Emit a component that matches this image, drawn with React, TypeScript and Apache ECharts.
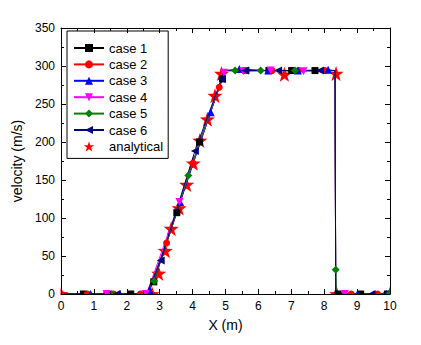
import React, { useEffect, useRef } from "react";
import * as echarts from "echarts";

// x (m), velocity (m/s) — marker points of each case
const case1Marks: number[][] = [[0.68,0],[1.4,0],[2.12,0],[2.82,16],[3.52,107],[4.21,200],[4.91,283],[5.62,294],[6.32,294],[7.01,294],[7.72,294],[8.42,0],[9.11,0],[9.92,0]];
const case2Marks: number[][] = [[0,0],[0.8,0],[1.6,0],[2.41,0],[3.21,67],[4.01,172],[4.81,272],[5.61,294],[6.42,294],[7.22,294],[8.02,294],[8.82,0],[9.62,0]];
const case3Marks: number[][] = [[0.9,0],[1.79,0],[2.7,5],[3.62,121],[4.55,239],[5.42,296],[6.3,294],[7.2,294],[8.12,295],[9.01,0],[9.9,0]];
const case4Marks: number[][] = [[1.39,0],[2.57,0],[3.6,121],[4.95,291],[5.54,293],[6.37,294],[7.37,293],[8.63,0]];
const case5Marks: number[][] = [[1.54,0],[2.83,17],[3.87,156],[5.29,294],[6.07,294],[7.11,294],[8.35,32],[9.98,0]];
const case6Marks: number[][] = [[1.69,0],[3.03,44],[4.07,188],[4.88,283],[5.59,294],[6.6,294],[7.87,294],[9.44,0]];

// profile vertices (no marker) of each case
const commonCorners: number[][] = [[0,0],[2.6,0],[4.97,294],[8.33,294],[8.35,0],[10,0]];
const case5Corners: number[][] = [[0,0],[2.6,0],[4.97,294],[8.33,294],[8.37,0],[10,0]];

const analytical: number[][] = [[0,0],[2.77,0],[2.97,27],[3.17,57],[3.35,86],[3.59,113],[3.82,144],[4.02,172],[4.22,202],[4.45,230],[4.68,261],[4.88,290],[6.79,289],[8.36,290],[8.38,0],[10,0]];

const names = ["case 1","case 2","case 3","case 4","case 5","case 6"];
const colors = ["#000000","#ff0000","#0000ff","#ff00ff","#008000","#000080"];
const symbols = ["rect","circle","triangle","triangle","diamond","triangle"];
const rotates = [0,0,0,180,0,90];
const sizes = [7,7,8,8,8,8];

const STAR = "path://M0,-10L2.35,-3.24L9.51,-3.09L3.8,1.24L5.88,8.09L0,4L-5.88,8.09L-3.8,1.24L-9.51,-3.09L-2.35,-3.24Z";

function merge(marks: number[][], corners: number[][]) {
  const items: any[] = [];
  marks.forEach((p) => items.push({ value: p }));
  corners.forEach((p) => {
    if (!marks.some((m) => Math.abs(m[0] - p[0]) < 1e-9)) items.push({ value: p, symbol: "none" });
  });
  items.sort((a, b) => a.value[0] - b.value[0]);
  return items;
}

export default function App() {
  const ref = useRef<HTMLDivElement>(null);
  useEffect(() => {
    const chart = echarts.init(ref.current!, undefined, { renderer: "svg" });
    const font = "'Liberation Sans', Arial, sans-serif";
    const marks = [case1Marks, case2Marks, case3Marks, case4Marks, case5Marks, case6Marks];
    const corners = [commonCorners, commonCorners, commonCorners, commonCorners, case5Corners, commonCorners];
    const series: any[] = names.map((n, i) => ({
      name: n,
      type: "line",
      data: merge(marks[i], corners[i]),
      symbol: symbols[i],
      symbolRotate: rotates[i],
      symbolSize: sizes[i],
      showAllSymbol: true,
      lineStyle: { color: colors[i], width: 1 },
      itemStyle: { color: colors[i], opacity: 1 },
      clip: true,
    }));
    series.push({
      name: "analytical",
      type: "scatter",
      data: analytical,
      symbol: STAR,
      symbolSize: 15,
      itemStyle: { color: "#ff0000", opacity: 1 },
    });
    const tickStyle = { show: true, inside: true, length: 5, lineStyle: { color: "#000", width: 1 } };
    const minor = { show: true, splitNumber: 2, length: 3, lineStyle: { color: "#000", width: 1 } };
    const axisLine = { show: true, onZero: false, lineStyle: { color: "#000", width: 1 } };
    const white = { fill: "#ffffff" };
    chart.setOption({
      animation: false,
      backgroundColor: "#ffffff",
      textStyle: { fontFamily: font },
      grid: { left: 61, right: 31, top: 28, bottom: 51, containLabel: false },
      graphic: [
        { type: "rect", z: 5, silent: true, shape: { x: 40, y: 294.5, width: 370, height: 12 }, style: white },
        { type: "rect", z: 5, silent: true, shape: { x: 45, y: 280, width: 15.5, height: 25 }, style: white },
        { type: "rect", z: 5, silent: true, shape: { x: 390.5, y: 280, width: 12, height: 25 }, style: white },
      ],
      legend: {
        orient: "vertical",
        left: 67,
        top: 31,
        padding: [10, 5, 5, 6],
        itemWidth: 30,
        itemHeight: 10,
        itemGap: 2.4,
        borderColor: "#000",
        borderWidth: 1,
        borderRadius: 0,
        backgroundColor: "#fff",
        textStyle: { fontFamily: font, fontSize: 13, color: "#000", lineHeight: 14 },
        data: [...names, "analytical"],
      },
      xAxis: [
        {
          type: "value", min: 0, max: 10, interval: 1, position: "bottom", z: 10,
          name: "X (m)", nameLocation: "middle", nameGap: 24,
          nameTextStyle: { fontFamily: font, fontSize: 14, color: "#000" },
          axisLine, axisTick: tickStyle, minorTick: minor, splitLine: { show: false },
          axisLabel: { fontFamily: font, fontSize: 12, color: "#000", margin: 6 },
        },
        {
          type: "value", min: 0, max: 10, interval: 1, position: "top", z: 10,
          axisLine, axisTick: tickStyle, minorTick: minor, splitLine: { show: false },
          axisLabel: { show: false },
        },
      ],
      yAxis: [
        {
          type: "value", min: 0, max: 350, interval: 50, position: "left", z: 10,
          name: "velocity (m/s)", nameLocation: "middle", nameGap: 22,
          nameTextStyle: { fontFamily: font, fontSize: 14, color: "#000" },
          axisLine, axisTick: tickStyle, minorTick: minor, splitLine: { show: false },
          axisLabel: { fontFamily: font, fontSize: 12, color: "#000", margin: 6 },
        },
        {
          type: "value", min: 0, max: 350, interval: 50, position: "right", z: 10,
          axisLine, axisTick: tickStyle, minorTick: minor, splitLine: { show: false },
          axisLabel: { show: false },
        },
      ],
      series,
    });
    return () => chart.dispose();
  }, []);
  return <div ref={ref} style={{ position: "fixed", left: 0, top: 0, width: 421, height: 345 }} />;
}
